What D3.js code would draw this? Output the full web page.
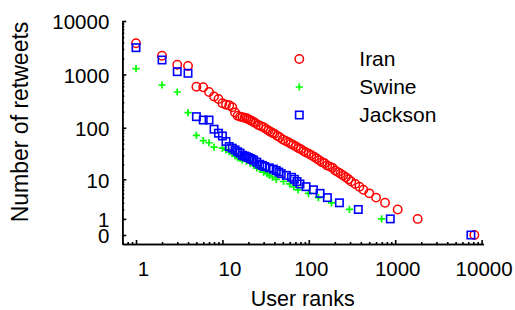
<!DOCTYPE html>
<html lang="en">
<head>
<meta charset="utf-8">
<title>Retweets by user rank</title>
<script src="https://cdn.jsdelivr.net/npm/d3@7"></script>
<style>
  body { margin: 0; background: #fff; }
  text { font-family: "Liberation Sans", Arial, sans-serif; fill: #000; }
  .axis path, .axis line { stroke: #000; stroke-width: 1.6; }
</style>
</head>
<body>
<script>
// values: user rank -> number of retweets
var iranRank  = [1, 2, 3, 4, 5, 6, 7, 8, 9, 10, 11, 12, 13, 14, 15, 16, 17, 18, 19, 20,
  21, 22, 23, 24, 26, 28, 30, 32, 34, 36, 38, 40, 43, 46, 50, 54, 58, 62, 66, 71,
  76, 81, 87, 93, 100, 107, 115, 123, 132, 142, 152, 163, 175, 188, 202, 217, 233, 250, 268, 288,
  310, 345, 385, 428, 501, 600, 762, 1068, 1820, 8240];
var iranCount = [3830, 2240, 1520, 1440, 590, 575, 470, 387, 347, 289, 271, 265, 244, 194, 169, 162, 158, 154, 151, 145,
  139, 134, 129, 123, 113, 107, 102, 95, 89, 84, 80, 77, 71, 66, 60, 56, 53, 50, 47, 44,
  41, 39, 36, 34, 32, 30, 28, 26, 24, 22, 21, 19, 18, 17, 15, 14, 13, 12, 11, 10,
  9, 8, 7, 6, 5, 4, 3, 2, 1, 0];

var swineRank  = [1, 2, 3, 4, 5, 6, 7, 8, 10, 11, 12, 13, 14, 15, 16, 17, 19, 21, 23, 25,
  27, 30, 33, 35, 38, 42, 51, 60, 67, 75, 99, 129, 183, 295, 696];
var swineCount = [1283, 636, 470, 192, 72, 57, 52, 43, 41, 38, 35, 32, 29, 27, 26, 24, 23, 21, 19, 17,
  16, 14, 13, 12, 11, 10, 9, 8, 7, 6, 5, 4, 3, 2, 1];

var jacksonRank  = [1, 2, 3, 4, 5, 6, 7, 8, 9, 10, 11, 12, 13, 14, 15, 16, 17, 18, 19, 20,
  21, 22, 23, 25, 27, 29, 31, 35, 39, 42, 45, 48, 55, 63, 68, 73, 79, 93, 113, 135,
  164, 226, 374, 877, 7520];
var jacksonCount = [3170, 1865, 1127, 1052, 162, 140, 140, 94, 79, 70, 55, 44, 41, 38, 35, 33, 30, 29, 28, 27,
  26, 25, 24, 22, 20, 19, 18, 17, 16, 15, 14, 13, 12, 11, 10, 9, 8, 7, 6, 5,
  4, 3, 2, 1, 0];

var seriesNames = ["Iran", "Swine", "Jackson"];
var xTicks = [1, 10, 100, 1000, 10000];
var yTicks = [0, 1, 10, 100, 1000, 10000];

var width = 515, height = 310;

var svg = d3.select("body").append("svg")
  .attr("width", width)
  .attr("height", height);

// x is plain log, y is log(1 + retweets) so that 0 fits
var x = d3.scaleLog().domain([0.694, 10460]).range([122.3, 483.3]);
var y = d3.scaleSymlog().constant(1).domain([-0.473, 9999]).range([244, 21]);

var xMinor = [], yMinor = [];
[0.1, 1, 10, 100, 1000].forEach(function(p) {
  for (var k = 2; k <= 9; k++) {
    if (k * p > 0.694 && k * p < 10460) xMinor.push(k * p);
    if (p >= 1) yMinor.push(k * p);
  }
});

// minor ticks first, majors drawn over them
svg.append("g").attr("class", "axis")
  .attr("transform", "translate(0,244)")
  .call(d3.axisBottom(x).tickValues(xMinor).tickSize(-2).tickSizeOuter(0).tickFormat(""));
svg.append("g").attr("class", "axis")
  .attr("transform", "translate(122.3,0)")
  .call(d3.axisLeft(y).tickValues(yMinor).tickSize(-2).tickSizeOuter(0).tickFormat(""));

var xAxis = svg.append("g").attr("class", "axis")
  .attr("transform", "translate(0,244)")
  .call(d3.axisBottom(x).tickValues(xTicks).tickSize(-4).tickSizeOuter(0)
    .tickPadding(17).tickFormat(d3.format("d")));
xAxis.selectAll("text").attr("font-size", 20.5).attr("dx", function(d) { return d < 100 ? 7 : 2; });

var yAxis = svg.append("g").attr("class", "axis")
  .attr("transform", "translate(122.3,0)")
  .call(d3.axisLeft(y).tickValues(yTicks).tickSize(-4).tickSizeOuter(0)
    .tickPadding(13).tickFormat(d3.format("d")));
yAxis.selectAll("text").attr("font-size", 20.5).attr("dy", "0.38em");
svg.selectAll(".axis text").attr("fill", "#000").attr("font-family", "Liberation Sans, Arial, sans-serif");

svg.append("text")
  .attr("x", 302.7).attr("y", 306)
  .attr("text-anchor", "middle")
  .attr("font-size", 21.5)
  .text("User ranks");

svg.append("text")
  .attr("transform", "translate(28,122) rotate(-90)")
  .attr("text-anchor", "middle")
  .attr("font-size", 23)
  .text("Number of retweets");

// marker helpers
function drawCircle(g, cx, cy) {
  g.append("circle").attr("cx", cx).attr("cy", cy).attr("r", 4.2)
    .attr("fill", "none").attr("stroke", "#ff0000").attr("stroke-width", 1.5);
}
function drawPlus(g, cx, cy) {
  g.append("path").attr("d", "M" + (cx - 3.6) + "," + cy + "h7.2M" + cx + "," + (cy - 3.6) + "v7.2")
    .attr("fill", "none").attr("stroke", "#00ff00").attr("stroke-width", 1.7);
}
function drawSquare(g, cx, cy) {
  g.append("rect").attr("x", cx - 3.7).attr("y", cy - 3.7).attr("width", 7.4).attr("height", 7.4)
    .attr("fill", "none").attr("stroke", "#0000ff").attr("stroke-width", 1.6);
}

var pts = svg.append("g");
iranRank.forEach(function(r, i) { drawCircle(pts, x(r), y(iranCount[i])); });
swineRank.forEach(function(r, i) { drawPlus(pts, x(r), y(swineCount[i])); });
jacksonRank.forEach(function(r, i) { drawSquare(pts, x(r), y(jacksonCount[i])); });

// legend
var legend = svg.append("g");
var drawers = [drawCircle, drawPlus, drawSquare];
seriesNames.forEach(function(name, i) {
  var ly = 59 + i * 28;
  drawers[i](legend, 299.3, ly);
  legend.append("text")
    .attr("x", 359.3).attr("y", ly)
    .attr("dy", "0.35em")
    .attr("font-size", 21)
    .text(name);
});
</script>
</body>
</html>
